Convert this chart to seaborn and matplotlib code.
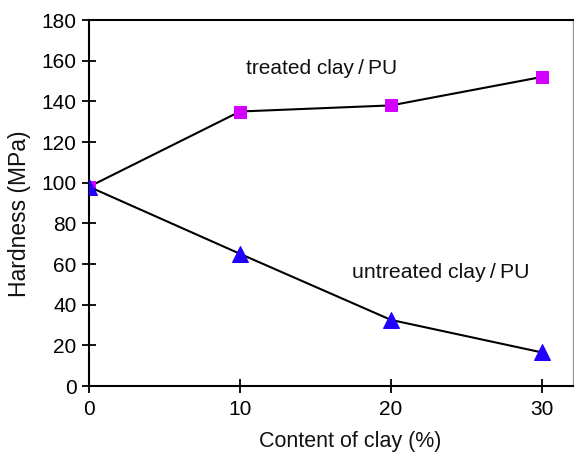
import matplotlib
matplotlib.use("Agg")
import matplotlib.pyplot as plt
import seaborn as sns
import pandas as pd

# Clay content (%) and hardness (MPa) for both composite series
clay_content = [0, 10, 20, 30]
treated_hardness = [98, 135, 138, 152]
untreated_hardness = [98, 65, 32.5, 16.5]
x_ticks = [0, 10, 20, 30]
y_ticks = [0, 20, 40, 60, 80, 100, 120, 140, 160, 180]

sns.set_style("ticks")
plt.rcParams["font.family"] = ["Liberation Sans", "DejaVu Sans"]

df = pd.DataFrame({
    "clay": clay_content * 2,
    "hardness": treated_hardness + untreated_hardness,
    "series": ["treated"] * 4 + ["untreated"] * 4,
})

fig = plt.figure(figsize=(5.74, 4.53), dpi=100)
ax = fig.add_axes([89 / 574, 67 / 453, 484 / 574, 366 / 453])

sns.lineplot(data=df[df.series == "treated"], x="clay", y="hardness",
             color="black", lw=1.5, marker="s", markersize=8.5,
             markerfacecolor="#d400ff", markeredgecolor="#d400ff", ax=ax, zorder=2)
sns.lineplot(data=df[df.series == "untreated"], x="clay", y="hardness",
             color="black", lw=1.5, marker="^", markersize=11,
             markerfacecolor="#2200ff", markeredgecolor="#2200ff", ax=ax, zorder=3)

ax.set_xlim(0, 32.05)
ax.set_ylim(0, 180)
ax.set_xticks(x_ticks)
ax.set_yticks(y_ticks)
ax.tick_params(direction="inout", length=10, width=1.3, labelsize=15, colors="black")
ax.tick_params(axis="x", pad=5)
ax.tick_params(axis="y", pad=4)

ax.set_xlabel("Content of clay (%)", fontsize=15.5, color="#111111")
ax.xaxis.set_label_coords(0.539, -0.153)
ax.xaxis.label.set_va("center")
ax.set_ylabel("Hardness (MPa)", fontsize=16.5, color="#111111")
ax.yaxis.set_label_coords(-0.1426, 0.470)
ax.yaxis.label.set_va("center")

for side in ["left", "bottom", "top"]:
    ax.spines[side].set_linewidth(1.5)
    ax.spines[side].set_color("black")
ax.spines["right"].set_linewidth(1.0)
ax.spines["right"].set_color("#999999")

ax.text(10.4, 156, "treated clay\u2009/\u2009PU", fontsize=15, va="center", ha="left",
        color="#111111")
ax.text(17.4, 56, "untreated clay\u2009/\u2009PU", fontsize=15.3, va="center", ha="left",
        color="#111111")

fig.savefig("out.png", dpi=100)
